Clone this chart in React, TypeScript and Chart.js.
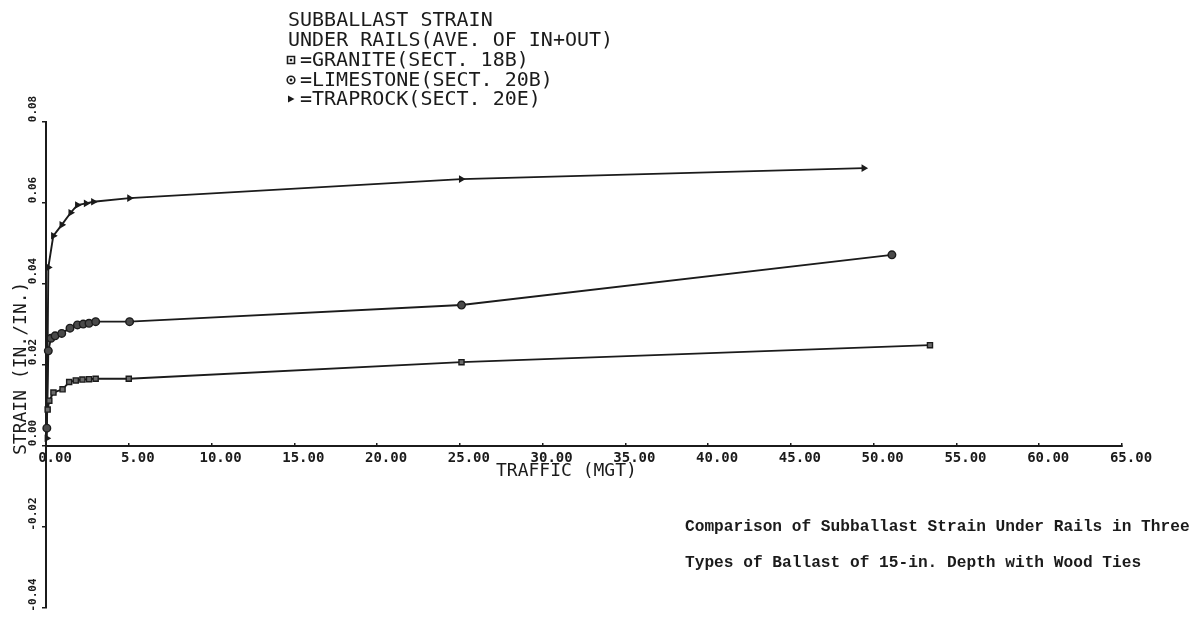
import React, { useEffect, useRef } from 'react';
import { Chart, registerables } from 'chart.js';

Chart.register(...registerables);

// ---- data (traffic in MGT, strain in in./in.) ----
const graniteX = [0.1, 0.2, 0.45, 1.0, 1.4, 1.8, 2.2, 2.6, 3.0, 5.0, 25.1, 53.4];
const graniteY = [0.009, 0.0112, 0.0132, 0.014, 0.0158, 0.0162, 0.0164, 0.0165, 0.0166, 0.0166, 0.0207, 0.0249];

const limestoneX = [0.05, 0.14, 0.3, 0.55, 0.95, 1.45, 1.9, 2.25, 2.6, 3.0, 5.05, 25.1, 51.1];
const limestoneY = [0.0044, 0.0235, 0.0266, 0.0272, 0.0278, 0.0291, 0.0299, 0.0301, 0.0303, 0.0307, 0.0307, 0.0348, 0.0472];

const traprockX = [0.05, 0.14, 0.44, 0.95, 1.49, 1.89, 2.42, 2.86, 5.04, 25.08, 49.4];
const traprockY = [0.0019, 0.0441, 0.0519, 0.0546, 0.0576, 0.0595, 0.0599, 0.0603, 0.0612, 0.0659, 0.0686];

const seriesNames = ['GRANITE(SECT. 18B)', 'LIMESTONE(SECT. 20B)', 'TRAPROCK(SECT. 20E)'];
const titleLines = ['SUBBALLAST STRAIN', 'UNDER RAILS(AVE. OF IN+OUT)'];
const xAxisTitle = 'TRAFFIC (MGT)';
const yAxisTitle = 'STRAIN (IN./IN.)';
const captionLines = [
  'Comparison of Subballast Strain Under Rails in Three',
  'Types of Ballast of 15-in. Depth with Wood Ties',
];
const xMin = 0, xMax = 65, xStep = 5;
const yMin = -0.04, yMax = 0.08, yStep = 0.02;

const zip = (xs: number[], ys: number[]) => xs.map((x, i) => ({ x, y: ys[i] }));

const INK = '#1b1b1b';

function drawMarker(ctx: CanvasRenderingContext2D, kind: number, x: number, y: number) {
  ctx.save();
  ctx.strokeStyle = INK;
  ctx.fillStyle = INK;
  ctx.lineWidth = 1.6;
  if (kind === 0) {
    ctx.beginPath();
    ctx.rect(x - 3.5, y - 3.5, 7, 7);
    ctx.stroke();
    ctx.fillRect(x - 1.2, y - 1.2, 2.4, 2.4);
  } else if (kind === 1) {
    ctx.beginPath();
    ctx.arc(x, y, 3.8, 0, Math.PI * 2);
    ctx.stroke();
    ctx.beginPath();
    ctx.arc(x, y, 1.4, 0, Math.PI * 2);
    ctx.fill();
  } else {
    ctx.beginPath();
    ctx.moveTo(x - 3, y - 3.5);
    ctx.lineTo(x + 3.5, y);
    ctx.lineTo(x - 3, y + 3.5);
    ctx.closePath();
    ctx.fill();
  }
  ctx.restore();
}

export default function App() {
  const ref = useRef<HTMLCanvasElement>(null);

  useEffect(() => {
    const canvas = ref.current;
    if (!canvas) return;

    const annotate = {
      id: 'annotate',
      afterDraw(chart: any) {
        const ctx: CanvasRenderingContext2D = chart.ctx;
        ctx.save();
        ctx.fillStyle = INK;
        ctx.textAlign = 'left';
        ctx.textBaseline = 'alphabetic';

        // title block
        ctx.font = '20px "DejaVu Sans Mono"';
        ctx.fillText(titleLines[0], 288, 26);
        ctx.fillText(titleLines[1], 288, 46);
        const legendBase = [66, 86, 105];
        seriesNames.forEach((name, i) => {
          drawMarker(ctx, i, 291, legendBase[i] - 6);
          ctx.fillText('=' + name, 300, legendBase[i]);
        });

        // x axis title
        ctx.font = '18px "DejaVu Sans Mono"';
        ctx.fillText(xAxisTitle, 496, 476);

        // y axis title (rotated)
        ctx.save();
        ctx.translate(26, 455);
        ctx.rotate(-Math.PI / 2);
        ctx.fillText(yAxisTitle, 0, 0);
        ctx.restore();

        // caption
        let size = 16;
        ctx.font = `bold ${size}px "Liberation Mono"`;
        const w = ctx.measureText(captionLines[0]).width;
        size = size * 505 / w;
        ctx.font = `bold ${size.toFixed(2)}px "Liberation Mono"`;
        ctx.fillText(captionLines[0], 685, 531);
        ctx.fillText(captionLines[1], 685, 567);

        ctx.restore();
      },
    };

    const lineCommon = {
      showLine: true,
      borderColor: INK,
      borderWidth: 1.9,
      pointBorderColor: INK,
      pointBorderWidth: 1.4,
      clip: false as any,
      tension: 0,
    };

    const chart = new Chart(canvas, {
      type: 'scatter',
      data: {
        datasets: [
          {
            ...lineCommon,
            label: seriesNames[0],
            data: zip(graniteX, graniteY),
            pointStyle: 'rect',
            pointRadius: 3.6,
            pointBackgroundColor: '#6b6b6b',
          },
          {
            ...lineCommon,
            label: seriesNames[1],
            data: zip(limestoneX, limestoneY),
            pointStyle: 'circle',
            pointRadius: 3.8,
            pointBackgroundColor: '#4a4a4a',
          },
          {
            ...lineCommon,
            label: seriesNames[2],
            data: zip(traprockX, traprockY),
            pointStyle: 'triangle',
            pointRotation: 90,
            pointRadius: 3,
            pointBackgroundColor: INK,
          },
        ],
      },
      options: {
        animation: false,
        responsive: false,
        maintainAspectRatio: false,
        devicePixelRatio: 1,
        layout: { padding: { top: 122, left: 0, right: 77, bottom: 12 } },
        plugins: {
          legend: { display: false },
          tooltip: { enabled: false },
          title: { display: false },
        },
        scales: {
          x: {
            type: 'linear',
            position: { y: 0 } as any,
            min: xMin,
            max: xMax,
            afterFit: (s: any) => { s.height = 0; },
            border: { display: true, color: INK, width: 2 },
            grid: { display: true, drawOnChartArea: false, drawTicks: true, tickLength: -4, color: INK, lineWidth: 1.5 },
            ticks: {
              stepSize: xStep,
              autoSkip: false,
              maxRotation: 0,
              minRotation: 0,
              padding: 8,
              labelOffset: 9,
              color: INK,
              font: { family: '"DejaVu Sans Mono"', size: 14, weight: 'bold' },
              callback: (v: any) => Number(v).toFixed(2),
            },
          },
          y: {
            type: 'linear',
            min: yMin,
            max: yMax,
            afterFit: (s: any) => { s.width = 46; },
            border: { display: true, color: INK, width: 2 },
            grid: { display: true, drawOnChartArea: false, drawTicks: true, tickLength: 4, color: INK, lineWidth: 1.5 },
            ticks: {
              stepSize: yStep,
              autoSkip: false,
              minRotation: 90,
              maxRotation: 90,
              crossAlign: 'center',
              padding: -7.5,
              labelOffset: -13,
              color: INK,
              font: { family: '"DejaVu Sans Mono"', size: 11, weight: 'bold' },
              callback: (v: any) => Number(v).toFixed(2),
            },
          },
        },
      },
      plugins: [annotate],
    });

    return () => chart.destroy();
  }, []);

  return (
    <div style={{ position: 'fixed', left: 0, top: 0, width: 1199, height: 620, background: '#fff' }}>
      <canvas ref={ref} width={1199} height={620} style={{ width: 1199, height: 620, display: 'block' }} />
    </div>
  );
}
